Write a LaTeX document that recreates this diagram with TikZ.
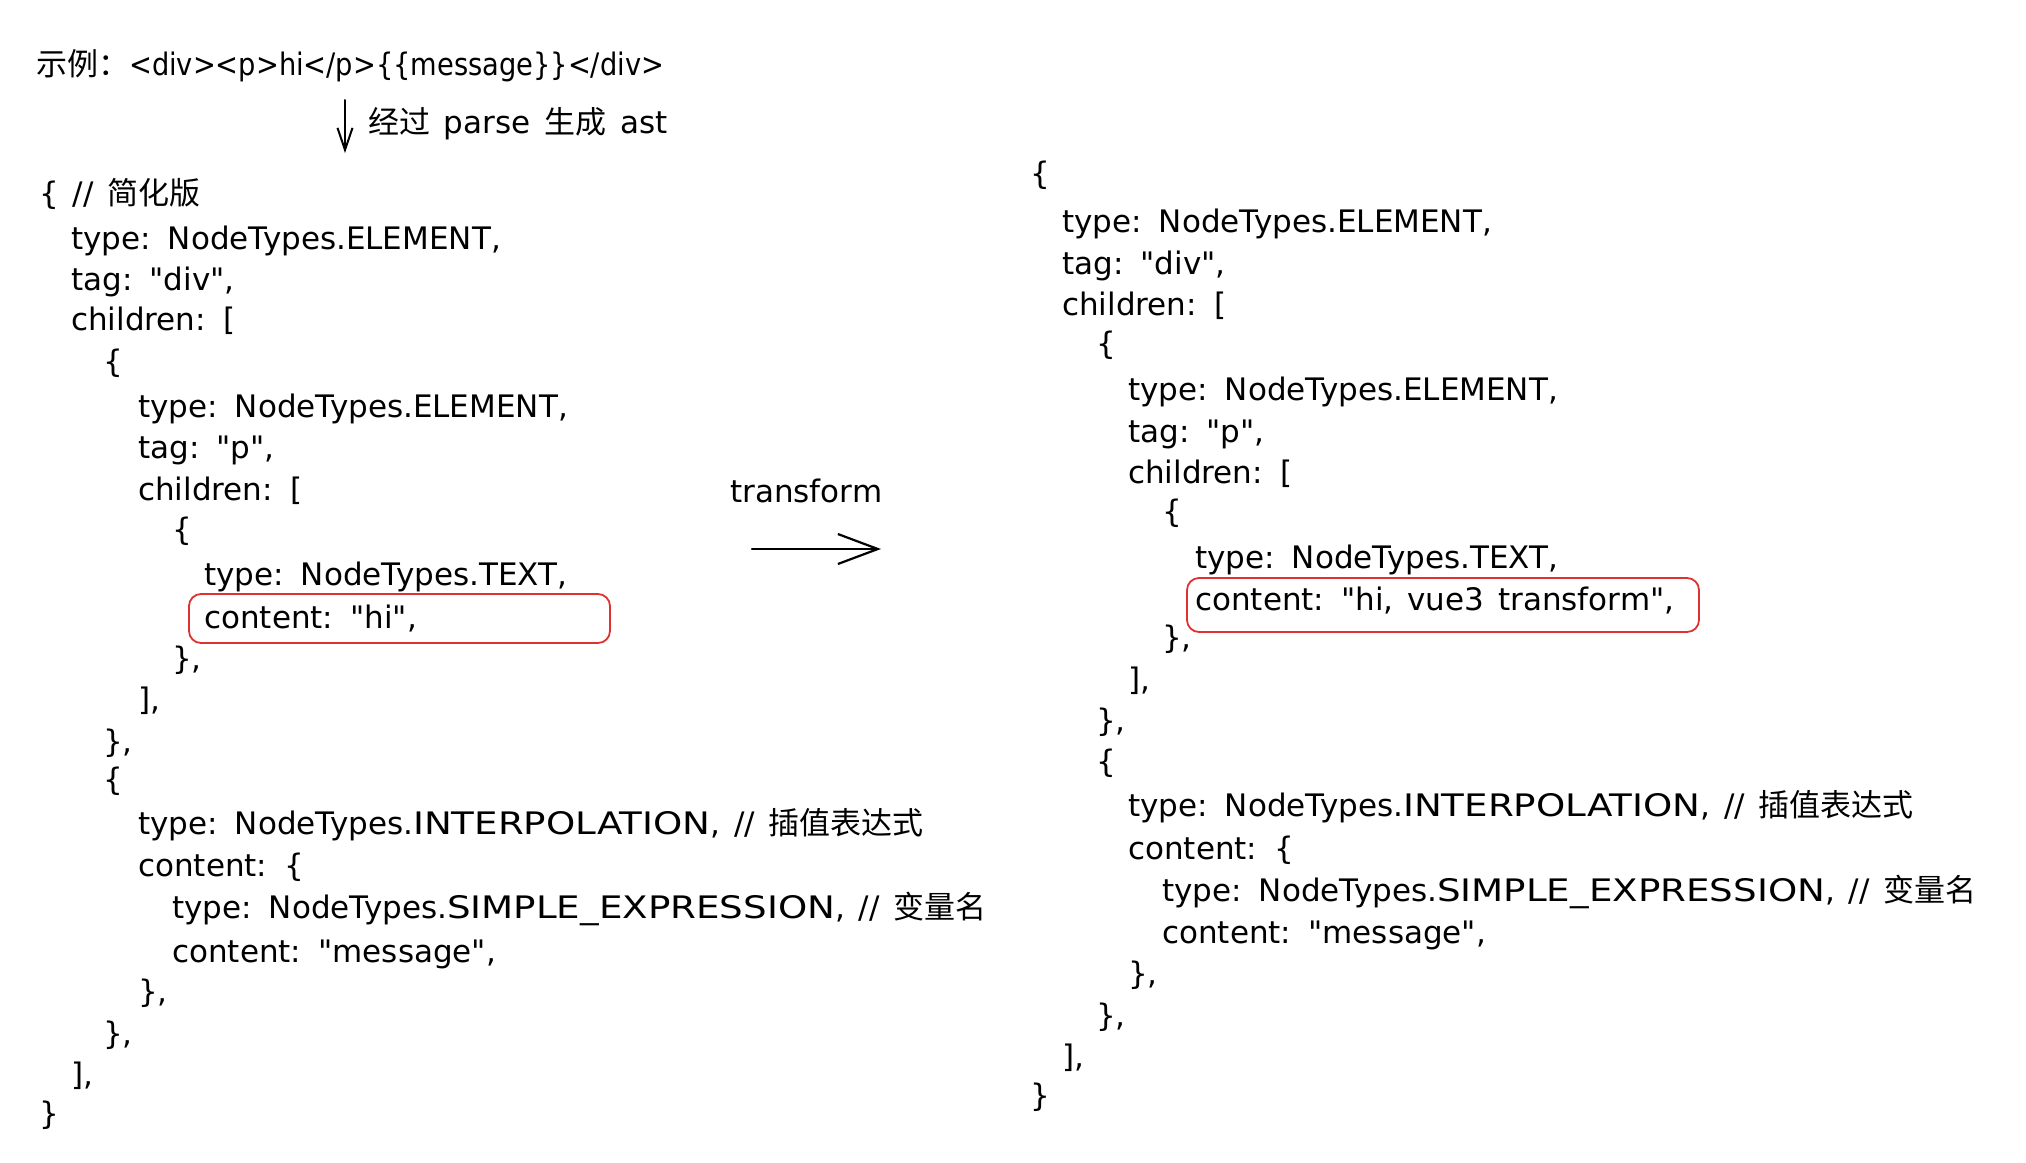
\documentclass[tikz,border=0pt]{standalone}
\usepackage{fontspec}
\setmainfont{DejaVu Sans}[Ligatures=TeXOff,WordSpace=1.4]
\newfontfamily\narrowfont{DejaVu Sans}[Ligatures=TeXOff,FakeStretch=0.88]
\newfontfamily\widefont{DejaVu Sans}[Ligatures=TeXOff,FakeStretch=1.2]
\newfontfamily\cjk{Noto Sans CJK SC}
\usetikzlibrary{arrows.meta}
\definecolor{hlred}{HTML}{E03131}
\tikzstyle{ln}=[anchor=base west,inner sep=0,font=\fontsize{31}{31}\selectfont]
\tikzstyle{hl}=[draw=hlred,line width=1.8pt,rounded corners=12pt,inner sep=0]
\tikzstyle{arr}=[line width=2.2pt,line cap=round,-{Straight Barb[length=40pt,width=30pt,line width=2.2pt]}]
\tikzstyle{arrs}=[line width=2pt,line cap=round,-{Straight Barb[length=22pt,width=15pt,line width=2pt]}]

\begin{document}
\begin{tikzpicture}[x=1pt,y=-1pt]
	\useasboundingbox (0,0) rectangle (2026,1162);

                        % header
                        \node[ln,font=\fontsize{31}{31}\selectfont\narrowfont] (title) at (36, 75) {{\cjk 示例：}<div><p>hi</p>\{\{message\}\}</div>};
                        \node[ln] (parse) at (368, 133) {{\cjk 经过} parse {\cjk 生成} ast};
                        \coordinate (pa) at (345, 100);
                        \coordinate (pb) at (345, 153);

                        % left: ast
                        \node[ln] (L1) at (39, 204) {\{ // {\cjk 简化版}};
                        \node[ln] (L2) at (71, 249) {type: NodeTypes.ELEMENT,};
                        \node[ln] (L3) at (71, 290) {tag: "div",};
                        \node[ln] (L4) at (71, 330) {children: [};
                        \node[ln] (L5) at (103, 372) {\{};
                        \node[ln] (L6) at (138, 417) {type: NodeTypes.ELEMENT,};
                        \node[ln] (L7) at (138, 458) {tag: "p",};
                        \node[ln] (L8) at (138, 500) {children: [};
                        \node[ln] (L9) at (172, 540) {\{};
                        \node[ln] (L10) at (204, 585) {type: NodeTypes.TEXT,};
                        \node[ln] (L11) at (204, 628) {content: "hi",};
                        \node[ln] (L12) at (172, 669) {\},};
                        \node[ln] (L13) at (138, 710) {],};
                        \node[ln] (L14) at (103, 752) {\},};
                        \node[ln] (L15) at (103, 790) {\{};
                        \node[ln] (L16) at (138, 834) {type: NodeTypes.{\widefont INTERPOLATION}, // {\cjk 插值表达式}};
                        \node[ln] (L17) at (138, 876) {content: \{};
                        \node[ln] (L18) at (172, 918) {type: NodeTypes.{\widefont SIMPLE\_EXPRESSION}, // {\cjk 变量名}};
                        \node[ln] (L19) at (172, 962) {content: "message",};
                        \node[ln] (L20) at (138, 1002) {\},};
                        \node[ln] (L21) at (103, 1044) {\},};
                        \node[ln] (L22) at (71, 1085) {],};
                        \node[ln] (L23) at (39, 1124) {\}};
                        \node[hl,minimum width=421pt,minimum height=49pt] (boxL) at (399.5, 618.5) {};

                        % middle
                        \node[ln] (tf) at (730, 502) {transform};
                        \coordinate (ta) at (752, 549);
                        \coordinate (tb) at (881, 549);

                        % right: transformed ast
                        \node[ln] (R1) at (1030, 184) {\{};
                        \node[ln] (R2) at (1062, 232) {type: NodeTypes.ELEMENT,};
                        \node[ln] (R3) at (1062, 274) {tag: "div",};
                        \node[ln] (R4) at (1062, 315) {children: [};
                        \node[ln] (R5) at (1096, 354) {\{};
                        \node[ln] (R6) at (1128, 400) {type: NodeTypes.ELEMENT,};
                        \node[ln] (R7) at (1128, 442) {tag: "p",};
                        \node[ln] (R8) at (1128, 483) {children: [};
                        \node[ln] (R9) at (1162, 522) {\{};
                        \node[ln] (R10) at (1195, 568) {type: NodeTypes.TEXT,};
                        \node[ln] (R11) at (1195, 610) {content: "hi, vue3 transform",};
                        \node[ln] (R12) at (1162, 648) {\},};
                        \node[ln] (R13) at (1128, 690) {],};
                        \node[ln] (R14) at (1096, 731) {\},};
                        \node[ln] (R15) at (1096, 772) {\{};
                        \node[ln] (R16) at (1128, 816) {type: NodeTypes.{\widefont INTERPOLATION}, // {\cjk 插值表达式}};
                        \node[ln] (R17) at (1128, 859) {content: \{};
                        \node[ln] (R18) at (1162, 901) {type: NodeTypes.{\widefont SIMPLE\_EXPRESSION}, // {\cjk 变量名}};
                        \node[ln] (R19) at (1162, 943) {content: "message",};
                        \node[ln] (R20) at (1128, 984) {\},};
                        \node[ln] (R21) at (1096, 1026) {\},};
                        \node[ln] (R22) at (1062, 1067) {],};
                        \node[ln] (R23) at (1030, 1106) {\}};
                        \node[hl,minimum width=512pt,minimum height=54pt] (boxR) at (1443, 605) {};

                        \draw[arrs]
                        (pa) -- (pb)
                        ;
                        \draw[arr]
                        (ta) -- (tb)
                        ;

    \end{tikzpicture}
\end{document}
